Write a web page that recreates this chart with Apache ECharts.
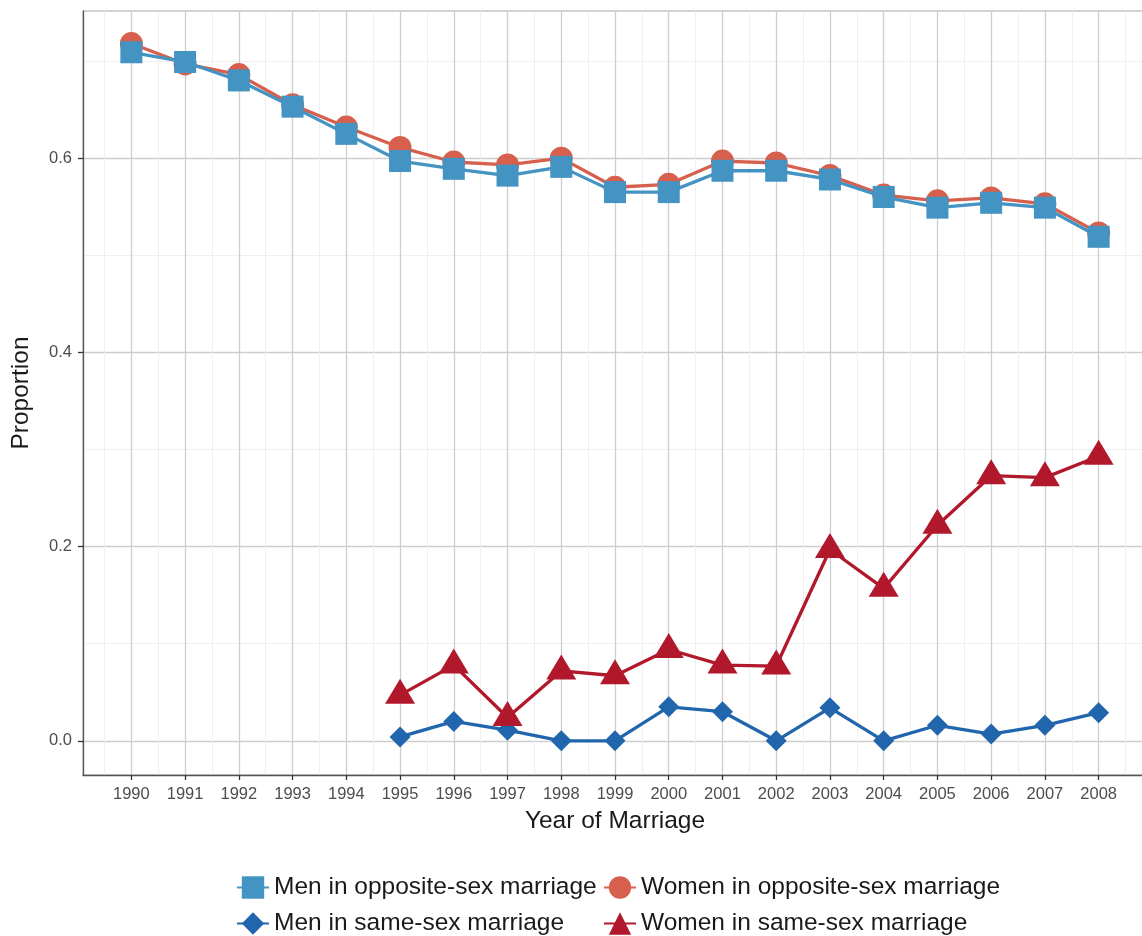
<!DOCTYPE html>
<html>
<head>
<meta charset="utf-8">
<title>Proportion by Year of Marriage</title>
<script src="https://cdn.jsdelivr.net/npm/echarts@6.0.0/dist/echarts.min.js"></script>
<style>
  html, body { margin: 0; padding: 0; background: #fff; }
  #main { width: 1142px; height: 936px; }
</style>
</head>
<body>
<div id="main"></div>
<script>
// data
const years = [1990, 1991, 1992, 1993, 1994, 1995, 1996, 1997, 1998, 1999,
               2000, 2001, 2002, 2003, 2004, 2005, 2006, 2007, 2008];
const menOpposite = [0.709, 0.699, 0.680, 0.653, 0.625, 0.597, 0.589, 0.582, 0.591, 0.565,
                     0.565, 0.587, 0.587, 0.578, 0.560, 0.549, 0.554, 0.549, 0.519];
const womenOpposite = [0.718, 0.697, 0.686, 0.655, 0.632, 0.611, 0.596, 0.593, 0.600, 0.570,
                       0.573, 0.597, 0.595, 0.582, 0.562, 0.556, 0.559, 0.553, 0.523];

const sameYears = [1995, 1996, 1997, 1998, 1999, 2000, 2001, 2002, 2003, 2004, 2005, 2006, 2007, 2008];
const menSame = [0.004, 0.020, 0.011, 0.000, 0.000, 0.035, 0.030, 0.000, 0.034, 0.000, 0.016, 0.007, 0.016, 0.029];
const womenSame = [0.047, 0.078, 0.024, 0.072, 0.067, 0.094, 0.078, 0.077, 0.197, 0.157, 0.222, 0.273, 0.271, 0.293];

const yTicks = [0, 0.2, 0.4, 0.6];
const yMinorTicks = [0.1, 0.3, 0.5, 0.7];
const xMinorTicks = [1989.5].concat(years.map(y => y + 0.5));

const names = ['Men in opposite-sex marriage', 'Women in opposite-sex marriage',
               'Men in same-sex marriage', 'Women in same-sex marriage'];
const colors = ['#4393c3', '#d6604d', '#2166ac', '#b2182b'];

const pair = (xs, ys) => xs.map((x, i) => [x, ys[i]]);

let chart = echarts.init(document.getElementById('main'));

const font = 'Liberation Sans, Arial, Helvetica, sans-serif';

function legendAt(name, left, top) {
  return {
    data: [name],
    left: left,
    top: top,
    padding: 0,
    itemWidth: 32,
    itemHeight: 28,
    itemGap: 0,
    selectedMode: false,
    textStyle: { fontSize: 24.5, color: '#1a1a1a', fontFamily: font }
  };
}

let option = {
  animation: false,
  textStyle: { fontFamily: font },
  legend: [
    legendAt(names[0], 236, 875),
    legendAt(names[1], 603, 875),
    legendAt(names[2], 236, 911),
    legendAt(names[3], 603, 911)
  ],
  grid: {
    left: 83, top: 11, right: -5, bottom: 161,
    show: true, borderColor: '#a6a6a6', borderWidth: 1,
    containLabel: false, outerBoundsMode: 'none'
  },
  xAxis: [
    {
      type: 'value', min: 1989.1, max: 2008.9,
      name: 'Year of Marriage', nameLocation: 'middle', nameGap: 34,
      nameTextStyle: { fontSize: 24.5, color: '#1a1a1a', fontFamily: font },
      axisLine: { show: true, onZero: false, lineStyle: { color: '#555', width: 1.3 } },
      axisTick: { show: true, length: 5, customValues: years, lineStyle: { color: '#333', width: 1.3 } },
      axisLabel: {
        customValues: years, margin: 11, fontSize: 16.5, color: '#4d4d4d', fontFamily: font,
        formatter: v => String(v)
      },
      splitLine: { show: true, lineStyle: { color: '#cdcdcd', width: 1.3 } }
    },
    {
      type: 'value', min: 1989.1, max: 2008.9, position: 'bottom',
      axisLine: { show: false, onZero: false },
      axisTick: { show: false, customValues: xMinorTicks },
      axisLabel: { show: false },
      splitLine: { show: true, lineStyle: { color: '#efefef', width: 1 } }
    }
  ],
  yAxis: [
    {
      type: 'value', min: -0.0352, max: 0.7515,
      name: 'Proportion', nameLocation: 'middle', nameGap: 49,
      nameTextStyle: { fontSize: 24.5, color: '#1a1a1a', fontFamily: font },
      axisLine: { show: true, onZero: false, lineStyle: { color: '#555', width: 1.3 } },
      axisTick: { show: true, length: 5, customValues: yTicks, lineStyle: { color: '#333', width: 1.3 } },
      axisLabel: {
        customValues: yTicks, margin: 11, fontSize: 16.5, color: '#4d4d4d', fontFamily: font,
        formatter: v => v.toFixed(1)
      },
      splitLine: { show: true, lineStyle: { color: '#cdcdcd', width: 1.3 } }
    },
    {
      type: 'value', min: -0.0352, max: 0.7515, position: 'left',
      axisLine: { show: false, onZero: false },
      axisTick: { show: false, customValues: yMinorTicks },
      axisLabel: { show: false },
      splitLine: { show: true, lineStyle: { color: '#efefef', width: 1 } }
    }
  ],
  series: [
    {
      name: names[1], type: 'line', z: 3,
      data: pair(years, womenOpposite),
      symbol: 'circle', symbolSize: 23,
      lineStyle: { color: colors[1], width: 3.3 },
      itemStyle: { color: colors[1] },
      emphasis: { disabled: true }
    },
    {
      name: names[0], type: 'line', z: 4,
      data: pair(years, menOpposite),
      symbol: 'rect', symbolSize: 22,
      lineStyle: { color: colors[0], width: 3.3 },
      itemStyle: { color: colors[0] },
      emphasis: { disabled: true }
    },
    {
      name: names[2], type: 'line', z: 3,
      data: pair(sameYears, menSame),
      symbol: 'diamond', symbolSize: 21,
      lineStyle: { color: colors[2], width: 3.3 },
      itemStyle: { color: colors[2] },
      emphasis: { disabled: true }
    },
    {
      name: names[3], type: 'line', z: 4,
      data: pair(sameYears, womenSame),
      // triangle centred on its centroid like R's pch 17
      symbol: 'triangle', symbolSize: [30, 25], symbolOffset: [0, -4],
      lineStyle: { color: colors[3], width: 3.3 },
      itemStyle: { color: colors[3] },
      emphasis: { disabled: true }
    }
  ]
};

chart.setOption(option);
</script>
</body>
</html>
